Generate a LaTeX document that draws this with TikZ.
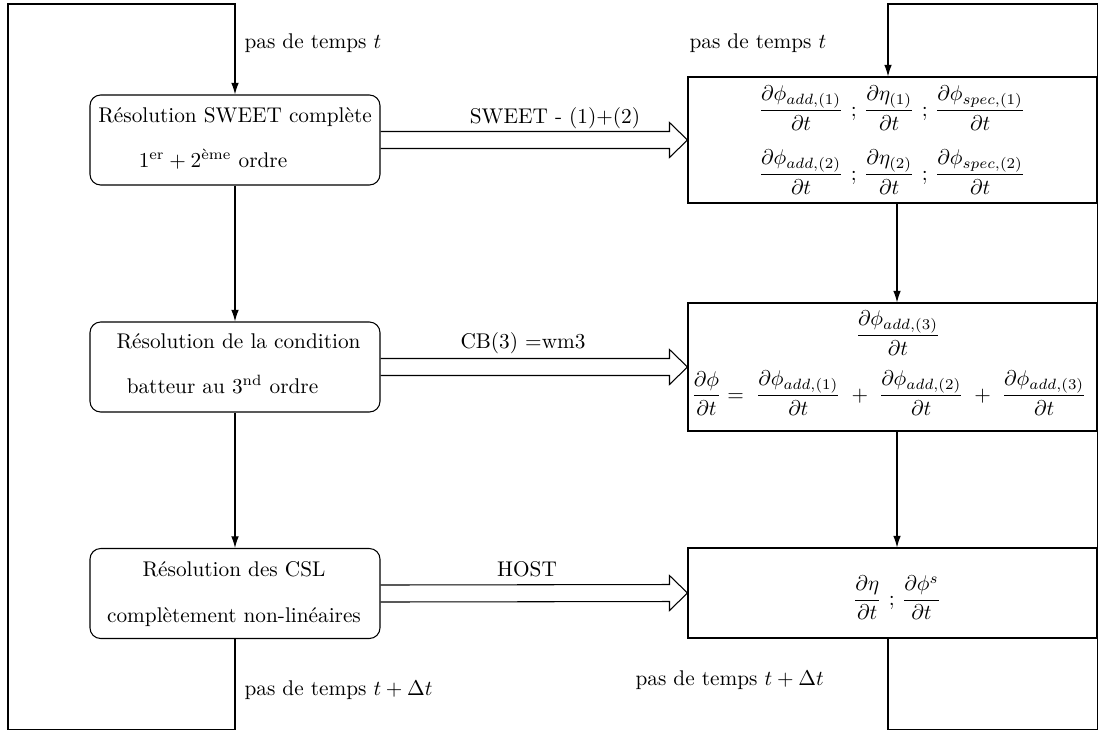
\documentclass[tikz,border=0pt]{standalone}
\usepackage{fontspec}
\usepackage{amsmath}
\usetikzlibrary{calc,arrows.meta}
\begin{document}
\begin{tikzpicture}[x=0.47pt,y=-0.47pt,
  line width=0.5pt,
  rbox/.style={draw,rounded corners=5pt,minimum width=290*0.47pt,minimum height=90*0.47pt,inner sep=0pt},
  sbox/.style={draw,minimum width=409*0.47pt,inner sep=0pt},
  txt/.style={anchor=base,inner sep=0pt,font=\normalsize},
  lbl/.style={anchor=base west,inner sep=0pt},
  arr/.style={-{Latex[length=5.5pt,width=3.6pt]}},
  dbl/.style={line join=miter}]
\useasboundingbox (0,0) rectangle (1109,731);
% left boxes
\node[rbox] (b1) at (235,140) {};
\node[rbox] (b2) at (235,367) {};
\node[rbox] (b3) at (235,593.5) {};
% right boxes
\node[sbox,minimum height=126*0.47pt] (b4) at (892.5,140) {};
\node[sbox,minimum height=128*0.47pt] (b5) at (892.5,367) {};
\node[sbox,minimum height=90*0.47pt] (b6) at (892.5,593) {};
% texts in left boxes
\node[txt] (t1a) at (235,122) {Résolution SWEET complète};
\node[txt] (t1b) at (213,167) {$1^{\text{er}} + 2^{\text{ème}}$ ordre};
\node[txt] (t2a) at (238.5,348) {Résolution de la condition};
\node[txt] (t2b) at (222.5,393) {batteur au $3^{\text{nd}}$ ordre};
\node[txt] (t3a) at (234,576) {Résolution des CSL};
\node[txt] (t3b) at (234,622) {complètement non-linéaires};
% texts in right boxes
\node[inner sep=0pt] (t4a) at (892,108) {$\dfrac{\partial\phi_{add,(1)}}{\partial t}$ ; $\dfrac{\partial\eta_{(1)}}{\partial t}$ ; $\dfrac{\partial\phi_{spec,(1)}}{\partial t}$};
\node[inner sep=0pt] (t4b) at (892,172) {$\dfrac{\partial\phi_{add,(2)}}{\partial t}$ ; $\dfrac{\partial\eta_{(2)}}{\partial t}$ ; $\dfrac{\partial\phi_{spec,(2)}}{\partial t}$};
\node[inner sep=0pt] (t5a) at (898,333) {$\dfrac{\partial\phi_{add,(3)}}{\partial t}$};
\node[inner sep=0pt] (t5b) at (889,393) {$\dfrac{\partial\phi}{\partial t}=\;\dfrac{\partial\phi_{add,(1)}}{\partial t}\;+\;\dfrac{\partial\phi_{add,(2)}}{\partial t}\;+\;\dfrac{\partial\phi_{add,(3)}}{\partial t}$};
\node[inner sep=0pt] (t6) at (897,598) {$\dfrac{\partial\eta}{\partial t}$ ; $\dfrac{\partial\phi^{s}}{\partial t}$};
% time-step labels
\node[lbl] (p1) at (244,48) {pas de temps $t$};
\node[lbl] (p2) at (689,48) {pas de temps $t$};
\node[lbl] (p3) at (244,695) {pas de temps $t+\Delta t$};
\node[lbl] (p4) at (635,685) {pas de temps $t+\Delta t$};
% double arrows
\newcommand\dblarrow[2]{%
  \draw[dbl] ($(#1.east)+(0,-8.5)$) -- ($(#2.west)+(-18,-8.5)$) -- ($(#2.west)+(-18,-17.5)$) -- (#2.west) -- ($(#2.west)+(-18,17.5)$) -- ($(#2.west)+(-18,8.5)$) -- ($(#1.east)+(0,8.5)$);}
\dblarrow{b1}{b4}
\dblarrow{b2}{b5}
\dblarrow{b3}{b6}
\node[txt] (d1) at (555,123) {SWEET - (1)+(2)};
\node[txt] (d2) at (523,348) {CB(3) =wm3};
\node[txt] (d3) at (527,576) {HOST};
% vertical arrows
\coordinate (xr) at (897,0);
\coordinate (xl) at (888,0);
\draw[arr] (b1.south) -- (b2.north);
\draw[arr] (b2.south) -- (b3.north);
\draw[arr] (b4.south -| xr) -- (b5.north -| xr);
\draw[arr] (b5.south -| xr) -- (b6.north -| xr);
% loops
\coordinate (la) at (235,729.5);
\coordinate (lb) at (8,729.5);
\coordinate (lc) at (8,4);
\coordinate (ld) at (235,4);
\draw[arr] (b3.south) -- (la) -- (lb) -- (lc) -- (ld) -- (b1.north);
\coordinate (ra) at (888,729.5);
\coordinate (rb) at (1097.5,729.5);
\coordinate (rc) at (1097.5,4);
\coordinate (rd) at (888,4);
\draw[arr] (b6.south -| xl) -- (ra) -- (rb) -- (rc) -- (rd) -- (b4.north -| xl);
\end{tikzpicture}
\end{document}
